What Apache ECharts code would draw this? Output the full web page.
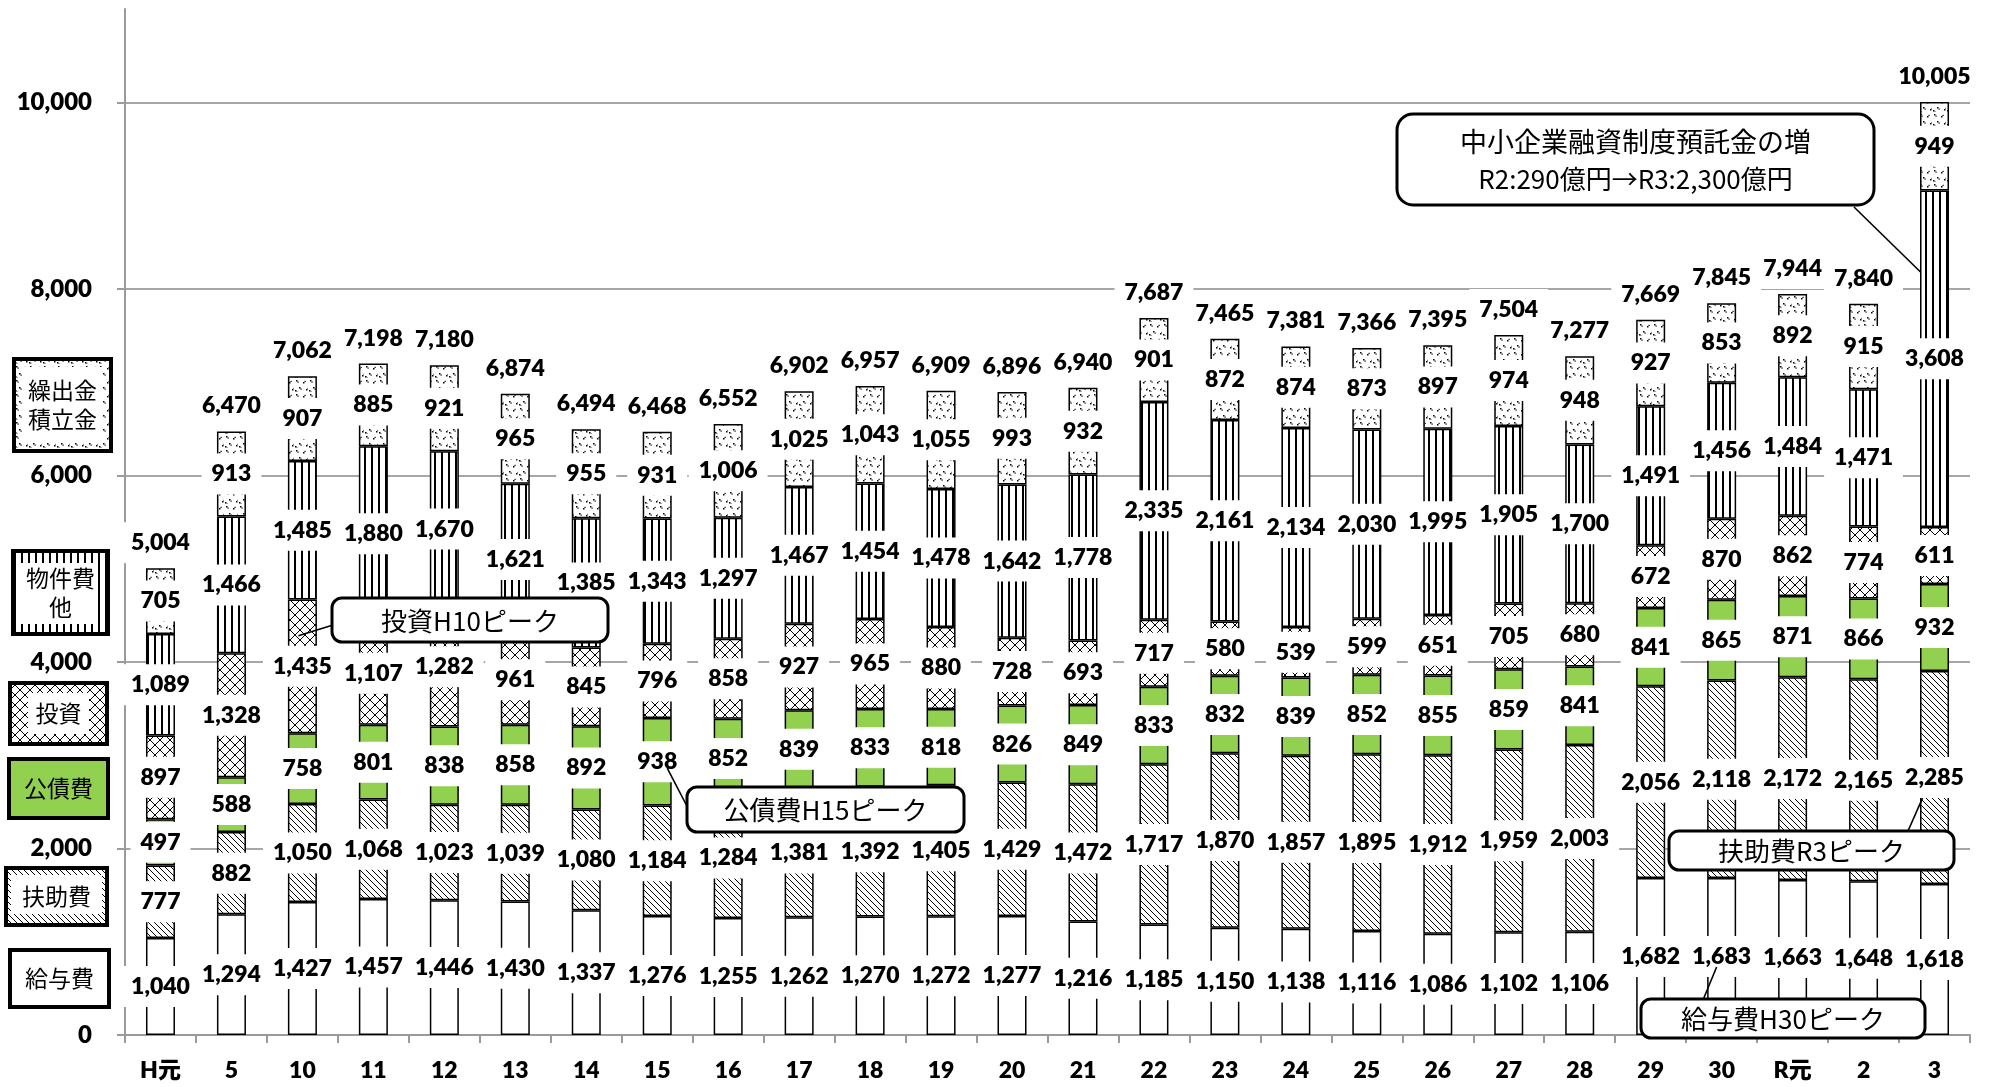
<!DOCTYPE html>
<html><head><meta charset="utf-8">
<script src="https://cdn.jsdelivr.net/npm/echarts@6/dist/echarts.min.js"></script>
<style>html,body{margin:0;padding:0;background:#fff}#c{width:1993px;height:1087px}</style>
</head><body><div id="c"></div>
<script>
const categories = ['H元','5','10','11','12','13','14','15','16','17','18','19','20','21','22','23','24','25','26','27','28','29','30','R元','2','3'];
const kyuyo = [1040,1294,1427,1457,1446,1430,1337,1276,1255,1262,1270,1272,1277,1216,1185,1150,1138,1116,1086,1102,1106,1682,1683,1663,1648,1618];
const fujo = [777,882,1050,1068,1023,1039,1080,1184,1284,1381,1392,1405,1429,1472,1717,1870,1857,1895,1912,1959,2003,2056,2118,2172,2165,2285];
const kosai = [497,588,758,801,838,858,892,938,852,839,833,818,826,849,833,832,839,852,855,859,841,841,865,871,866,932];
const toshi = [897,1328,1435,1107,1282,961,845,796,858,927,965,880,728,693,717,580,539,599,651,705,680,672,870,862,774,611];
const bukken = [1089,1466,1485,1880,1670,1621,1385,1343,1297,1467,1454,1478,1642,1778,2335,2161,2134,2030,1995,1905,1700,1491,1456,1484,1471,3608];
const kuridashi = [705,913,907,885,921,965,955,931,1006,1025,1043,1055,993,932,901,872,874,873,897,974,948,927,853,892,915,949];
const totals = [5004,6470,7062,7198,7180,6874,6494,6468,6552,6902,6957,6909,6896,6940,7687,7465,7381,7366,7395,7504,7277,7669,7845,7944,7840,10005];
const yTicks = [0,2000,4000,6000,8000,10000];
const seriesNames = ['給与費','扶助費','公債費','投資','物件費他','繰出金積立金'];

const fmt = v => Number(v).toLocaleString('en-US');
const NUMFONT = 'Lato, "Noto Sans CJK JP", sans-serif';
const JPFONT = '"Noto Sans CJK JP", sans-serif';
const NUMWEIGHT = 800;

function pat(w, h, draw) {
  const c = document.createElement('canvas');
  c.width = w; c.height = h;
  const g = c.getContext('2d');
  g.fillStyle = '#fff'; g.fillRect(0, 0, w, h);
  g.strokeStyle = '#000'; g.fillStyle = '#000';
  draw(g, w, h);
  return { image: c, repeat: 'repeat' };
}
const patHatch = pat(6, 6, (g, w, h) => {
  g.lineWidth = 1; g.beginPath();
  for (let k = -1; k <= 1; k++) { g.moveTo(k * w - 1, -1); g.lineTo(k * w + w + 1, h + 1); }
  g.stroke();
});
const patCross = pat(10, 10, (g, w, h) => {
  g.lineWidth = 1; g.beginPath();
  for (let k = -1; k <= 1; k++) {
    g.moveTo(k * w, 0); g.lineTo(k * w + w, h);
    g.moveTo(k * w + w, 0); g.lineTo(k * w, h);
  }
  g.stroke();
});
const patVert = pat(7, 4, (g, w, h) => { g.fillRect(0, 0, 2, h); });
const patDots = pat(14, 14, (g) => {
  const pts = [[2,2],[9,4],[5,9],[12,11],[1,12]];
  pts.forEach(([x, y], i) => {
    g.fillRect(x, y, 1.5, 1.5);
    if (i % 2 === 0) g.fillRect(x + 1.5, y + 1.5, 1.2, 1.2); else g.fillRect(x + 1.5, y - 1.2, 1.2, 1.2);
  });
});
const GREEN = '#92D050';
const fills = ['#ffffff', patHatch, GREEN, patCross, patVert, patDots];
const values = [kyuyo, fujo, kosai, toshi, bukken, kuridashi];

const labelCfg = {
  show: true, position: 'inside', formatter: p => fmt(p.value),
  fontFamily: NUMFONT, fontWeight: NUMWEIGHT, fontSize: 23, color: '#000',
  backgroundColor: '#fff', padding: [8, 10], lineHeight: 25, textBorderWidth: 0
};

const series = values.map((d, i) => ({
  name: seriesNames[i], type: 'bar', stack: 'total', data: d, barWidth: 29,
  itemStyle: { color: fills[i], borderColor: '#000', borderWidth: 1.5 },
  label: labelCfg, silent: true, animation: false
}));
series.push({
  name: '合計', type: 'bar', data: totals, barWidth: 29, barGap: '-100%',
  itemStyle: { color: 'rgba(0,0,0,0)', borderWidth: 0 },
  label: Object.assign({}, labelCfg, { position: 'top', distance: 5 }),
  silent: true, animation: false, z: 1
});

const chart = echarts.init(document.getElementById('c'), null, { renderer: 'canvas' });
chart.setOption({
  animation: false,
  backgroundColor: '#fff',
  grid: { left: 125, right: 23, top: 9, bottom: 52, containLabel: false },
  xAxis: {
    type: 'category', data: categories, boundaryGap: true,
    axisLine: { show: true, lineStyle: { color: '#9a9a9a', width: 2 } },
    axisTick: { show: true, length: 8, alignWithLabel: false, lineStyle: { color: '#9a9a9a', width: 2 } },
    axisLabel: { fontFamily: NUMFONT, fontWeight: NUMWEIGHT, fontSize: 23, lineHeight: 23, color: '#000', margin: 24, interval: 0 },
    splitLine: { show: false }
  },
  yAxis: {
    type: 'value', min: 0, max: 11000, interval: 2000,
    axisLine: { show: true, lineStyle: { color: '#9a9a9a', width: 2 } },
    axisTick: { show: true, inside: false, length: 8, lineStyle: { color: '#9a9a9a', width: 2 }, customValues: yTicks },
    axisLabel: { customValues: yTicks, formatter: v => fmt(v), fontFamily: NUMFONT, fontWeight: NUMWEIGHT, fontSize: 24, color: '#000', margin: 33 },
    splitLine: { show: true, showMinLine: false, lineStyle: { color: '#a6a6a6', width: 2 } }
  },
  series: series
});

function px(cat, val) { return chart.convertToPixel({ gridIndex: 0 }, [cat, val]); }

const graphics = [];
const legendBoxes = [
  { text: '繰出金\n積立金', x: 14, y: 359, w: 97, h: 92, fill: patDots, inset: [6, 6, 6, 6] },
  { text: '物件費\n他', x: 13, y: 551, w: 95, h: 83, fill: patVert, inset: [10, 12, 8, 6] },
  { text: '投資', x: 10, y: 683, w: 97, h: 61, fill: patCross, inset: [8, 16, 8, 16] },
  { text: '公債費', x: 9, y: 759, w: 99, h: 59, fill: GREEN, inset: null },
  { text: '扶助費', x: 6, y: 868, w: 101, h: 57, fill: patHatch, inset: [5, 3, 9, 3] },
  { text: '給与費', x: 10, y: 950, w: 99, h: 57, fill: '#fff', inset: null }
];
legendBoxes.forEach(b => {
  graphics.push({ type: 'rect', z: 100, shape: { x: b.x, y: b.y, width: b.w, height: b.h },
    style: { fill: b.fill, stroke: '#000', lineWidth: 4 } });
  if (b.inset) {
    const [t, r, bo, l] = b.inset;
    graphics.push({ type: 'rect', z: 101, shape: { x: b.x + l + 2, y: b.y + t + 2, width: b.w - l - r - 4, height: b.h - t - bo - 4 },
      style: { fill: '#fff', lineWidth: 0 } });
  }
  graphics.push({ type: 'text', z: 102, style: { text: b.text, x: b.x + b.w / 2, y: b.y + b.h / 2,
    textAlign: 'center', textVerticalAlign: 'middle', verticalAlign: 'middle', align: 'center',
    fontSize: 23, fontFamily: JPFONT, fontWeight: 'normal', lineHeight: 29, fill: '#000' } });
});

function callout(x, y, w, h, lines, r) {
  graphics.push({ type: 'rect', z: 110, shape: { x: x, y: y, width: w, height: h, r: r || 12 },
    style: { fill: '#fff', stroke: '#000', lineWidth: 3 } });
  lines.forEach(L => {
    graphics.push({ type: 'text', z: 111, style: { text: L.t, x: x + w / 2, y: L.y,
      textAlign: 'center', textVerticalAlign: 'middle', verticalAlign: 'middle', align: 'center',
      fontSize: L.s, fontFamily: JPFONT, fontWeight: 'normal', fill: '#000' } });
  });
}
function leader(x1, y1, p) {
  graphics.push({ type: 'line', z: 109, shape: { x1: x1, y1: y1, x2: p[0], y2: p[1] },
    style: { stroke: '#000', lineWidth: 1.6 } });
}

let p;
p = px('3', 8180); leader(1854, 207, [p[0] - 14, p[1]]);
callout(1397, 114, 477, 91, [{ t: '中小企業融資制度預託金の増', y: 142, s: 27 }, { t: 'R2:290億円→R3:2,300億円', y: 179, s: 26 }], 16);

p = px('10', 4280); leader(333, 625, [p[0] - 4, p[1]]);
callout(332, 598, 276, 44, [{ t: '投資H10ピーク', y: 621, s: 26 }], 10);

p = px('15', 2862); leader(689, 810, [p[0] + 10, p[1]]);
callout(687, 787, 277, 45, [{ t: '公債費H15ピーク', y: 810, s: 26 }], 10);

p = px('3', 2540); leader(1908, 831, [p[0] - 12, p[1]]);
callout(1669, 831, 285, 39, [{ t: '扶助費R3ピーク', y: 851, s: 26 }], 10);

p = px('30', 729); leader(1703, 1000, [p[0] - 5, p[1]]);
callout(1641, 999, 284, 39, [{ t: '給与費H30ピーク', y: 1019, s: 26 }], 10);

chart.setOption({ graphic: { elements: graphics } });
</script>
</body></html>
